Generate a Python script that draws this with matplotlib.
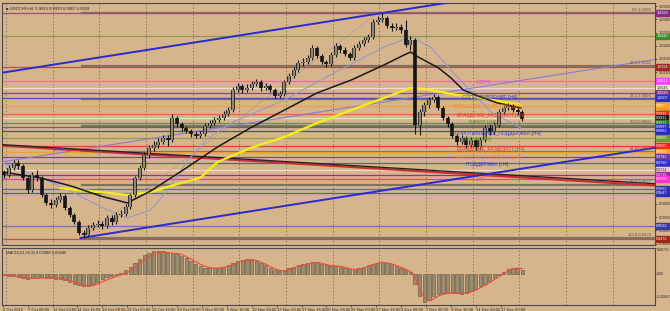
import matplotlib
matplotlib.use("Agg")
import matplotlib.pyplot as plt
import matplotlib.transforms as mtransforms
import numpy as np

BG = '#d6b48c'
plt.rcParams['font.family'] = ['Liberation Sans Narrow', 'Liberation Sans', 'DejaVu Sans']

# USDCHF H4 candles, one candle drawn per 3 H4 bars
open0 = 0.9722
closes = [
    0.9715, 0.9741, 0.9760, 0.9749, 0.9704, 0.9658, 0.9715, 0.9704, 0.9639, 0.9609,
    0.9601, 0.9620, 0.9635, 0.9590, 0.9564, 0.9537, 0.9495, 0.9487, 0.9514, 0.9525,
    0.9529, 0.9521, 0.9552, 0.9537, 0.9564, 0.9567, 0.9594, 0.9639, 0.9704, 0.9741,
    0.9791, 0.9817, 0.9829, 0.9840, 0.9855, 0.9848, 0.9931, 0.9908, 0.9893, 0.9882,
    0.9870, 0.9863, 0.9870, 0.9901, 0.9912, 0.9923, 0.9931, 0.9946, 0.9961, 1.0037,
    1.0052, 1.0037, 1.0045, 1.0060, 1.0067, 1.0045, 1.0052, 1.0037, 1.0014, 1.0022,
    1.0067, 1.0090, 1.0113, 1.0140, 1.0143, 1.0158, 1.0196, 1.0166, 1.0143, 1.0136,
    1.0170, 1.0204, 1.0189, 1.0174, 1.0158, 1.0196, 1.0212, 1.0227, 1.0238, 1.0295,
    1.0302, 1.0310, 1.0280, 1.0272, 1.0276, 1.0265, 1.0208, 1.0227, 0.9904, 0.9954,
    0.9980, 0.9999, 1.0011, 0.9969, 0.9931, 0.9908, 0.9863, 0.9840, 0.9855, 0.9829,
    0.9848, 0.9821, 0.9848, 0.9893, 0.9878, 0.9904, 0.9954, 0.9969, 0.9976, 0.9961,
    0.9954, 0.9928]
highs = [
    0.9733, 0.9752, 0.9772, 0.9770, 0.9756, 0.9712, 0.9726, 0.9733, 0.9711, 0.9646,
    0.9622, 0.9632, 0.9648, 0.9642, 0.9598, 0.9572, 0.9545, 0.9505, 0.9524, 0.9538,
    0.9546, 0.9540, 0.9562, 0.9565, 0.9575, 0.9582, 0.9604, 0.9648, 0.9712, 0.9752,
    0.9802, 0.9828, 0.9843, 0.9854, 0.9866, 0.9868, 0.9946, 0.9938, 0.9915, 0.9902,
    0.9890, 0.9880, 0.9883, 0.9912, 0.9925, 0.9934, 0.9944, 0.9958, 0.9973, 1.0048,
    1.0065, 1.0061, 1.0058, 1.0071, 1.0080, 1.0074, 1.0063, 1.0059, 1.0043, 1.0034,
    1.0076, 1.0101, 1.0123, 1.0151, 1.0158, 1.0171, 1.0208, 1.0203, 1.0174, 1.0152,
    1.0180, 1.0215, 1.0213, 1.0199, 1.0182, 1.0206, 1.0223, 1.0238, 1.0248, 1.0306,
    1.0318, 1.0329, 1.0316, 1.0292, 1.0291, 1.0287, 1.0302, 1.0242, 1.0233, 0.9966,
    0.9990, 1.0009, 1.0022, 1.0018, 0.9976, 0.9938, 0.9915, 0.9870, 0.9866, 0.9862,
    0.9859, 0.9855, 0.9859, 0.9903, 0.9907, 0.9914, 0.9964, 0.9980, 0.9987, 0.9983,
    0.9970, 0.9961]
lows = [
    0.9703, 0.9708, 0.9733, 0.9738, 0.9695, 0.9648, 0.9652, 0.9694, 0.9630, 0.9600,
    0.9590, 0.9594, 0.9612, 0.9582, 0.9555, 0.9528, 0.9486, 0.9476, 0.9482, 0.9506,
    0.9516, 0.9510, 0.9514, 0.9526, 0.9530, 0.9555, 0.9560, 0.9587, 0.9632, 0.9696,
    0.9733, 0.9781, 0.9806, 0.9819, 0.9831, 0.9825, 0.9841, 0.9897, 0.9883, 0.9873,
    0.9860, 0.9854, 0.9856, 0.9864, 0.9892, 0.9904, 0.9914, 0.9922, 0.9938, 0.9955,
    1.0028, 1.0025, 1.0028, 1.0038, 1.0052, 1.0035, 1.0037, 1.0028, 1.0005, 1.0008,
    1.0016, 1.0060, 1.0082, 1.0106, 1.0129, 1.0135, 1.0150, 1.0158, 1.0134, 1.0126,
    1.0129, 1.0162, 1.0179, 1.0165, 1.0149, 1.0151, 1.0188, 1.0204, 1.0218, 1.0232,
    1.0286, 1.0294, 1.0272, 1.0262, 1.0264, 1.0255, 1.0199, 1.0188, 0.9872, 0.9865,
    0.9940, 0.9970, 0.9990, 0.9960, 0.9922, 0.9897, 0.9854, 0.9829, 0.9831, 0.9819,
    0.9821, 0.9811, 0.9814, 0.9841, 0.9868, 0.9870, 0.9896, 0.9946, 0.9960, 0.9953,
    0.9944, 0.9918]
bars_per_candle = 3

# MACD histogram and signal (x 0.001), same candle grid
macd_hist = [
    -0.4, -0.5, -0.6, -0.9, -1.3, -1.5, -1.3, -1.1, -1.0, -1.1,
    -1.2, -1.4, -1.6, -1.9, -2.2, -2.8, -3.3, -3.6, -3.5, -3.0,
    -2.2, -1.5, -1.0, -0.6, -0.2, 0.3, 1.0, 2.0, 3.2, 4.4,
    5.4, 6.2, 6.6, 6.7, 6.5, 6.0, 6.2, 5.8, 5.3, 4.5,
    3.8, 3.0, 2.3, 1.8, 1.6, 1.7, 1.8, 2.1, 2.5, 3.2,
    3.8, 4.1, 4.3, 4.2, 3.8, 3.2, 2.5, 1.8, 1.2, 0.9,
    1.1, 1.6, 2.1, 2.6, 3.0, 3.2, 3.5, 3.4, 3.0, 2.5,
    2.3, 2.4, 2.2, 1.8, 1.4, 1.3, 1.6, 2.0, 2.5, 3.0,
    3.3, 3.4, 3.2, 2.8, 2.3, 1.7, 1.2, 0.6, -3.0, -6.5,
    -8.0, -7.5, -6.5, -5.8, -5.5, -5.3, -5.4, -5.6, -5.7, -5.5,
    -5.0, -4.4, -3.6, -2.8, -2.0, -1.2, -0.4, 0.6, 1.3, 1.7,
    1.6, 1.2]
macd_signal = [
    -0.2, -0.4, -0.6, -0.8, -1.0, -1.2, -1.3, -1.3, -1.2, -1.1,
    -1.1, -1.2, -1.4, -1.6, -1.9, -2.3, -2.8, -3.2, -3.5, -3.4,
    -2.9, -2.3, -1.7, -1.2, -0.7, -0.3, 0.2, 0.9, 1.9, 3.0,
    4.1, 5.0, 5.8, 6.2, 6.3, 6.2, 6.0, 5.9, 5.6, 5.0,
    4.3, 3.5, 2.8, 2.2, 1.8, 1.7, 1.7, 1.9, 2.2, 2.7,
    3.3, 3.7, 4.0, 4.1, 3.9, 3.4, 2.8, 2.1, 1.5, 1.0,
    0.9, 1.2, 1.7, 2.2, 2.6, 2.9, 3.2, 3.3, 3.1, 2.7,
    2.4, 2.3, 2.2, 1.9, 1.5, 1.3, 1.4, 1.7, 2.2, 2.7,
    3.1, 3.3, 3.2, 2.9, 2.4, 1.9, 1.3, 0.7, -1.0, -4.5,
    -7.0, -7.8, -7.2, -6.4, -5.9, -5.6, -5.5, -5.5, -5.6, -5.5,
    -5.2, -4.7, -4.0, -3.3, -2.5, -1.6, -0.8, 0.1, 0.9, 1.5,
    1.7, 1.5]

# moving averages (bar index, price)
ma_black_bars = [0, 24, 44, 63, 80, 95, 116, 138, 159, 181, 202, 224, 245, 258, 262,
                 267, 280, 288, 296, 307, 318, 333]
ma_black = [0.9726, 0.9704, 0.9673, 0.9635, 0.9609, 0.9654, 0.9734, 0.9821, 0.9893,
            0.9961, 1.0026, 1.0075, 1.0132, 1.0170, 1.0181, 1.0162, 1.0121, 1.0083,
            1.0037, 1.0011, 0.9988, 0.9969]
ma_yellow_bars = [37, 63, 80, 95, 110, 127, 138, 159, 181, 202, 224, 245, 262, 275,
                  288, 307, 333]
ma_yellow = [0.9665, 0.9650, 0.9639, 0.9650, 0.9677, 0.9704, 0.9764, 0.9817, 0.9859,
             0.9912, 0.9961, 1.0007, 1.0045, 1.0037, 1.0022, 1.0007, 0.9980]
ma_lav_bars = [0, 24, 42, 63, 80, 95, 106, 119, 132, 148, 181, 202, 224, 245, 262,
               275, 288, 301, 314, 333]
ma_lav = [0.9760, 0.9707, 0.9658, 0.9594, 0.9552, 0.9582, 0.9658, 0.9771, 0.9855,
          0.9916, 0.9999, 1.0067, 1.0136, 1.0200, 1.0238, 1.0200, 1.0113, 1.0030,
          0.9954, 0.9893]

# trend lines: (bar0, price0, bar1, price1)
chan_upper = (0, 1.0103, 300, 1.0381)
chan_lower = (50, 0.9476, 419, 0.9818)
chan_mid = (0, 0.9765, 419, 1.0153)
trend_red = (0, 0.9826, 419, 0.9675)
trend_black = (0, 0.9830, 419, 0.9682)

# fibonacci retracement
fib_hi, fib_lo = 1.0329, 0.9476
fib_bar_lo, fib_bar_hi = 51, 241
fib_levels = [0.0, 23.6, 38.2, 50.0, 61.8, 76.4, 100.0]

# horizontal levels: price, line colour, tag colour
hlines = [
    (1.0329, '#9b4f7a', '#8a2a8a'),
    (1.0240, '#86a04a', '#3c8c28'),
    (1.0124, '#b4553c', '#9c2a1e'),
    (1.0071, '#e86ad2', '#ff3cff'),
    (1.0046, '#f0dcc8', '#f4e4d8'),
    (1.0026, '#8a4a8a', '#7a3a8a'),
    (1.0007, '#5a4ab8', '#2a2ad8'),
    (0.9977, '#f0a040', '#ffa020'),
    (0.9946, '#f06048', '#ff2818'),
    (0.9931, '#f0d8c8', '#1a1a1a'),
    (0.9912, '#6a8a5a', '#2a7a2a'),
    (0.9897, '#5c6e50', '#3030c8'),
    (0.9882, '#4848c8', '#2828c8'),
    (0.9855, '#8ca050', '#6a9a30'),
    (0.9825, '#e84040', '#f02020'),
    (0.9802, '#f0a030', '#ffa020'),
    (0.9783, '#7a4a9a', '#6a3a9a'),
    (0.9760, '#5858d8', '#3030d0'),
    (0.9734, '#f4d8d0', '#f4c8d8'),
    (0.9715, '#903a7a', '#a02aa0'),
    (0.9700, '#e040b0', '#ff30d0'),
    (0.9662, '#6a6a8a', '#3030b0'),
    (0.9647, '#5a5ab0', '#3030b0'),
    (0.9522, '#7a6ab0', '#3a3aa0'),
    (0.9472, '#b05a48', '#a02818'),
]

notes = [
    (304, 1.0064, '1.0070', '#e050c0'),
    (295, 1.0007, 'СОПРОТИВЛЕНИЕ [H4]', '#3a3ad0'),
    (290, 0.9973, 'ВРАЩЕНИЕ_РАЗВОРОТ [H4]', '#f09030'),
    (292, 0.9942, 'ВРАЩЕНИЕ_РАЗВОРОТ [H4]', '#f03a28'),
    (299, 0.9912, 'ЛИНИЯ [H4]', '#5a8a3a'),
    (288, 0.9874, 'СОПРОТИВЛЕНИЕ_ПОДДЕРЖКА [H4]', '#3a3ad0'),
    (296, 0.9848, 'ЛИНИЯ [H4]', '#6a9a30'),
    (292, 0.9813, 'ВРАЩЕНИЕ_РАЗВОРОТ [H4]', '#f03a28'),
    (290, 0.9783, 'ВРАЩЕНИЕ_РАЗВОРОТ [H4]', '#f09030'),
    (298, 0.9753, 'ПОДДЕРЖКА [H4]', '#3a3ad0'),
    (304, 0.9696, '1.0?', '#e040c0'),
    (32, 0.9810, '0.976', '#4a4ad0'),
]

date_labels = ['2 Oct 2015', '7 Oct 08:00', '12 Oct 00:00', '14 Oct 16:00', '19 Oct 08:00',
               '22 Oct 00:00', '26 Oct 16:00', '29 Oct 08:00', '3 Nov 00:00', '5 Nov 16:00',
               '10 Nov 08:00', '13 Nov 00:00', '17 Nov 16:00', '20 Nov 08:00', '25 Nov 00:00',
               '27 Nov 16:00', '2 Dec 08:00', '7 Dec 00:00', '9 Dec 16:00', '14 Dec 08:00',
               '17 Dec 00:00']

XMAX = 419.2
FS = 3.0
fig = plt.figure(figsize=(6.7, 3.11), dpi=100, facecolor=BG)
ax = fig.add_axes([2 / 670, 66 / 311, 653 / 670, 242 / 311], facecolor=BG)
axm = fig.add_axes([2 / 670, 6 / 311, 653 / 670, 57 / 311], facecolor=BG)

for a in (ax, axm):
    a.set_xlim(-0.5, XMAX)
    for s in a.spines.values():
        s.set_color('#4a4a4a')
        s.set_linewidth(0.8)
    for g in range(2, 420, 30):
        a.axvline(g, color='#6e6652', lw=0.6, ls=(0, (1.5, 2.5)), zorder=1)

ax.set_ylim(0.94495, 1.03669)

# fibonacci lines
for lv in fib_levels:
    p = fib_hi - (fib_hi - fib_lo) * lv / 100
    ax.plot([fib_bar_lo, XMAX], [p, p], color='#7c7462', lw=1.6, zorder=2)
    ax.text(417, p + 0.0004, f'{lv:.1f}-{p:.4f}', fontsize=FS, color='#5a5448',
            ha='right', va='bottom', zorder=6)
ax.plot([fib_bar_lo, fib_bar_hi], [fib_lo, fib_hi], color='#a07aa8', lw=0.6, ls=(0, (1, 1.5)), zorder=3)

# horizontal levels + price tags
trans = mtransforms.blended_transform_factory(ax.transAxes, ax.transData)
for p, c, tc in hlines:
    ax.axhline(p, color=c, lw=0.9, zorder=2)
    light = tc in ('#f4e4d8', '#f4c8d8')
    ax.text(1.002, p, f'{p:.4f}', transform=trans, fontsize=2.7,
            color='#303030' if light else 'white', va='center', ha='left', clip_on=False,
            zorder=10, bbox=dict(boxstyle='square,pad=0.2', fc=tc, ec=tc))

# trend lines
for (b0, p0, b1, p1), c, w in [(chan_mid, '#8a7ad0', 0.8), (trend_red, '#c83030', 1.6),
                               (trend_black, '#202020', 0.9), (chan_upper, '#2a2ad0', 1.4),
                               (chan_lower, '#2a2ad0', 1.4)]:
    ax.plot([b0, b1], [p0, p1], color=c, lw=w, zorder=3)

# moving averages
ax.plot(ma_lav_bars, ma_lav, color='#9a9ac8', lw=0.8, zorder=4)
ax.plot(ma_yellow_bars, ma_yellow, color='#f4ec1c', lw=1.7, zorder=4)
ax.plot(ma_black_bars, ma_black, color='#1a1a1a', lw=1.1, zorder=4)

# candles
opens = [open0] + closes[:-1]
xs = 1 + bars_per_candle * np.arange(len(closes))
ax.vlines(xs, lows, highs, color='#141414', lw=0.8, zorder=5)
for x, o, c in zip(xs, opens, closes):
    ax.vlines(x, min(o, c), max(o, c), color='#141414', lw=2.6, zorder=5)
    if c >= o:
        ax.vlines(x, min(o, c) + 0.00008, max(o, c) - 0.00008, color='#a8a08a', lw=1.2, zorder=5)

for b, p, t, c in notes:
    ax.text(b, p, t, fontsize=3.6, color=c, va='center', ha='left', zorder=6)

ax.text(0.006, 0.985, '\u25a0 USDCHF,H4  0.9913 0.9929 0.9907 0.9928', transform=ax.transAxes,
        fontsize=FS, color='#2a2a2a', va='top', ha='left', zorder=7)

ax.set_xticks([])
ax.yaxis.tick_right()
ax.set_yticks(np.arange(0.9455, 1.0356, 0.005))
ax.yaxis.set_major_formatter(matplotlib.ticker.FormatStrFormatter('%.4f'))
ax.tick_params(axis='y', labelsize=FS, colors='#2e2e2e', length=1.5, width=0.5, pad=1)

# MACD panel
axm.set_ylim(-9.0, 7.51)
axm.bar(xs, macd_hist, width=2.2, color='#9a8c6e', edgecolor='#5e5644', lw=0.4, zorder=3)
axm.plot(xs, macd_signal, color='#f04a3a', lw=0.8, zorder=4)
axm.text(0.006, 0.95, 'MACD(12,26,9) 0.00088 0.00446', transform=axm.transAxes,
         fontsize=FS, color='#2a2a2a', va='top', ha='left')
axm.yaxis.tick_right()
axm.set_yticks([7.51, 0.0, -6.67])
axm.set_yticklabels(['0.00751', '0.00', '-0.00667'])
axm.tick_params(axis='y', labelsize=2.6, colors='#2e2e2e', length=1.0, width=0.5, pad=0.5)
ylabs = axm.get_yticklabels()
ylabs[0].set_va('top')
axm.set_xticks(np.arange(len(date_labels)) * 16)
axm.set_xticklabels(date_labels, ha='left')
axm.tick_params(axis='x', labelsize=FS, colors='#2e2e2e', length=1.5, width=0.5, pad=0.5)

fig.savefig('out.png', dpi=100, facecolor=BG)
